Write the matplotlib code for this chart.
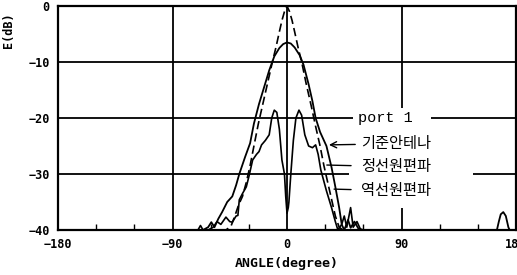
import numpy as np
import matplotlib.pyplot as plt
from matplotlib.ticker import MultipleLocator

# Ângulo (graus) e nível (dB)
ang_ref = [-180, -60, -48, -44, -41, -38, -35, -32, -29, -26, -22.5, -19, -15, -11.5,
           -8.6, -6, -4, -2, 0, 2, 4, 6, 8.6, 12, 15, 19, 22.5, 26, 29, 32, 35, 38,
           41, 44, 48, 60, 180]
db_ref = [-40, -40, -40, -39.3, -37.5, -35.5, -34.0, -31.5, -28.5, -25.0, -21.0, -17.5,
          -13.5, -10.0, -7.3, -4.6, -2.6, -1.0, 0.0, -1.0, -2.6, -4.6, -7.3, -10.5,
          -13.8, -17.8, -21.5, -25.0, -28.5, -31.5, -34.5, -37.5, -39.5, -40, -40,
          -40, -40]

ang_co = [-180, -66, -62, -59.5, -57, -54, -51, -47, -43, -40, -37.5, -33, -29, -26,
          -22, -18, -14, -10, -6, -3, 0, 3, 6, 10, 13, 17, 20, 22.5, 26, 31, 35, 38,
          41, 43, 45, 48, 50, 53, 56, 60, 160, 165, 166.5, 168, 170, 172, 174, 175,
          180]
db_co = [-40, -40, -39.5, -38.6, -39.5, -38.0, -36.8, -35.0, -34.0, -32.0, -30.0,
         -27.0, -24.5, -21.0, -17.5, -14.5, -11.5, -9.0, -7.5, -6.8, -6.5, -6.7, -7.4,
         -8.8, -10.5, -14.0, -17.0, -20.0, -22.5, -25.0, -28.8, -32.3, -36.0, -39.0,
         -40, -38.2, -39.6, -38.5, -39.7, -40, -40, -40, -38.5, -37.2, -36.8, -37.5,
         -39.5, -40, -40]

ang_cross = [-180, -85, -70, -68, -66, -62, -58, -55, -52, -48, -45, -43, -40, -38.6,
             -37.5, -35, -32, -30, -27, -24, -22, -20, -17, -14, -12, -10, -8, -6, -4,
             -2, -1, 0, 1, 1.5, 3, 5, 7, 9.4, 11.5, 14, 17, 20, 22.5, 24.5, 26.6, 31,
             35, 38, 40, 43, 45, 47, 50, 52, 55, 58, 70, 180]
db_cross = [-40, -40, -40, -39.2, -40, -40, -39.5, -38.5, -39.0, -37.7, -38.5, -38.6,
            -37.5, -37.4, -34.6, -33.5, -32.3, -30.5, -27.5, -26.5, -26.0, -24.8,
            -24.0, -23.0, -20.0, -18.6, -19.0, -22.0, -27.5, -30.0, -34.0, -37.0,
            -36.0, -35.0, -30.0, -24.0, -20.0, -18.6, -19.5, -23.0, -25.0, -25.3,
            -24.8, -26.5, -29.3, -33.0, -36.0, -38.5, -40, -39.0, -37.5, -39.5, -36.0,
            -39.5, -38.5, -40, -40, -40]

xticks = [-180, -90, 0, 90, 180]
yticks = [0, -10, -20, -30, -40]
labels_kr = ["기준안테나", "정선원편파", "역선원편파"]

mono = {'family': 'DejaVu Sans Mono', 'weight': 'bold'}

fig = plt.figure(figsize=(5.17, 2.75), dpi=100)
ax = fig.add_axes([58 / 517, 1 - 230 / 275, 458 / 517, 224 / 275])

# grade manual (com interrupções como no original)
gk = dict(color='black', lw=1.3, zorder=1)
ax.hlines(-10, -180, 180, **gk)
ax.hlines(-20, -180, 52, **gk)
ax.hlines(-20, 113, 180, **gk)
ax.hlines(-30, -180, 48.5, **gk)
ax.hlines(-30, 146, 180, **gk)
ax.vlines(-90, -40, 0, **gk)
ax.vlines(0, -40, 0, **gk)
ax.vlines(90, -18.2, 0, **gk)
ax.vlines(90, -40, -36, **gk)

ax.plot(ang_ref, db_ref, color='black', lw=1.2, ls=(0, (5, 2.5)), zorder=3)
ax.plot(ang_co, db_co, color='black', lw=1.3, zorder=3)
ax.plot(ang_cross, db_cross, color='black', lw=1.2, zorder=3)

ax.set_xlim(-180, 180)
ax.set_ylim(-40, 0)
ax.set_xticks(xticks)
ax.set_yticks(yticks)
ax.xaxis.set_minor_locator(MultipleLocator(30))
ax.tick_params(which='major', length=0, pad=6)
ax.tick_params(axis='x', which='minor', direction='in', length=4, width=1)
ax.tick_params(axis='y', which='minor', length=0)
for t in ax.get_xticklabels() + ax.get_yticklabels():
    t.set_fontfamily('DejaVu Sans Mono')
    t.set_fontweight('bold')
    t.set_fontsize(8.5)
for s in ax.spines.values():
    s.set_linewidth(1.6)

ax.set_xlabel("ANGLE(degree)", fontdict=mono, fontsize=9.5, labelpad=4)
fig.text(8 / 517, 1 - 30 / 275, "E(dB)", rotation=90, ha='center', va='center',
         fontdict=mono, fontsize=8.5)

ax.text(56, -20, "port 1", family='Liberation Mono', fontsize=11,
        ha='left', va='center')
kr = ['Noto Sans CJK KR', 'DejaVu Sans']
ax.annotate(labels_kr[0], xy=(33, -24.8), xytext=(58, -24.6), family=kr,
            fontsize=11, weight='medium', ha='left', va='center',
            arrowprops=dict(arrowstyle='->', lw=1, color='black', shrinkA=2, shrinkB=0))
ax.annotate(labels_kr[1], xy=(31.3, -28.4), xytext=(58, -28.7), family=kr,
            fontsize=11, weight='medium', ha='left', va='center',
            arrowprops=dict(arrowstyle='-', lw=1, color='black', shrinkA=5, shrinkB=0))
ax.annotate(labels_kr[2], xy=(37, -32.7), xytext=(58, -33.0), family=kr,
            fontsize=11, weight='medium', ha='left', va='center',
            arrowprops=dict(arrowstyle='-', lw=1, color='black', shrinkA=5, shrinkB=0))

fig.savefig("out.png", dpi=100)
